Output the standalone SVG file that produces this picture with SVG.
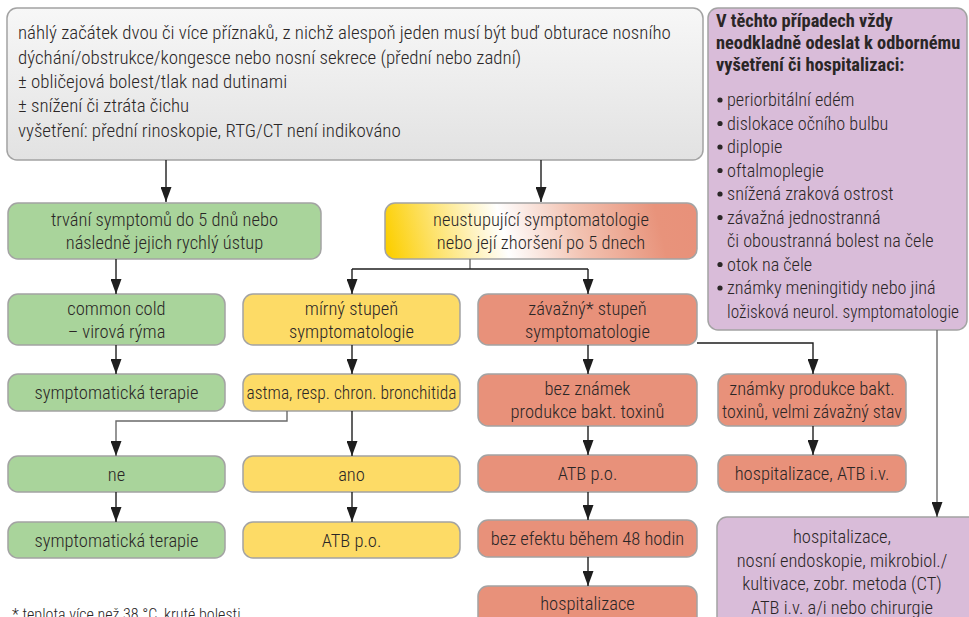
<svg xmlns="http://www.w3.org/2000/svg" width="969" height="617" viewBox="0 0 969 617">
  <defs>
    <linearGradient id="gTop" x1="0" y1="0" x2="0" y2="1">
      <stop offset="0" stop-color="#f7f7f7"/>
      <stop offset="1" stop-color="#e2e2e2"/>
    </linearGradient>
    <linearGradient id="gMix" gradientUnits="userSpaceOnUse" x1="392" y1="268" x2="690" y2="196">
      <stop offset="0" stop-color="#fccf00"/>
      <stop offset="0.14" stop-color="#fde060"/>
      <stop offset="0.38" stop-color="#ffffff"/>
      <stop offset="0.62" stop-color="#f2c2b1"/>
      <stop offset="0.88" stop-color="#e8937b"/>
      <stop offset="1" stop-color="#e8917a"/>
    </linearGradient>
    <marker id="ah" viewBox="0 0 15 11" refX="15" refY="5.5" markerWidth="15" markerHeight="11" markerUnits="userSpaceOnUse" orient="auto">
      <path d="M0,0 L15,5.5 L0,11 z" fill="#1e1e1e"/>
    </marker>
  </defs>
  <style>
    .box { stroke: #a3a3a3; stroke-width: 1.5; }
    .green { fill: #a9d49b; }
    .yellow { fill: #fddb66; }
    .salmon { fill: #e8917a; }
    .purple { fill: #d9bcd9; }
    text { font-family: "Roboto Condensed", "Liberation Sans Narrow", "Liberation Sans", sans-serif; font-size: 18.5px; font-weight: 300; fill: #2a2626; }
    .c { text-anchor: middle; }
    .t { font-size: 18.9px; }
    .b { font-weight: bold; font-size: 18.4px; }
    .li { font-size: 18.2px; }
    .wire { fill: none; stroke: #1e1e1e; stroke-width: 1.4; }
    .grey { stroke: #6a6a6a; }
  </style>

  <!-- entry criteria -->
  <g id="n-entry">
    <rect class="box" x="7" y="8" width="696" height="152" rx="10" fill="url(#gTop)"/>
    <text class="t" x="18" y="39">náhlý začátek dvou či více příznaků, z nichž alespoň jeden musí být buď obturace nosního</text>
    <text class="t" x="18" y="64">dýchání/obstrukce/kongesce nebo nosní sekrece (přední nebo zadní)</text>
    <text class="t" x="18" y="88">± obličejová bolest/tlak nad dutinami</text>
    <text class="t" x="18" y="112">± snížení či ztráta čichu</text>
    <text class="t" x="18" y="137">vyšetření: přední rinoskopie, RTG/CT není indikováno</text>
  </g>

  <!-- red flags -->
  <g id="n-redflags">
    <rect class="box purple" x="708" y="8" width="259" height="322" rx="10"/>
    <text class="b" x="716" y="27">V těchto případech vždy</text>
    <text class="b" x="716" y="49">neodkladně odeslat k odbornému</text>
    <text class="b" x="716" y="71">vyšetření či hospitalizaci:</text>
    <g fill="#2a2626">
      <circle cx="720" cy="100" r="2.6"/>
      <circle cx="720" cy="123.5" r="2.6"/>
      <circle cx="720" cy="147" r="2.6"/>
      <circle cx="720" cy="170.5" r="2.6"/>
      <circle cx="720" cy="194" r="2.6"/>
      <circle cx="720" cy="217.5" r="2.6"/>
      <circle cx="720" cy="264.5" r="2.6"/>
      <circle cx="720" cy="288" r="2.6"/>
    </g>
    <text class="li" x="727" y="106">periorbitální edém</text>
    <text class="li" x="727" y="129.5">dislokace očního bulbu</text>
    <text class="li" x="727" y="153">diplopie</text>
    <text class="li" x="727" y="176.5">oftalmoplegie</text>
    <text class="li" x="727" y="200">snížená zraková ostrost</text>
    <text class="li" x="727" y="223.5">závažná jednostranná</text>
    <text class="li" x="727" y="247">či oboustranná bolest na čele</text>
    <text class="li" x="727" y="270.5">otok na čele</text>
    <text class="li" x="727" y="294">známky meningitidy nebo jiná</text>
    <text class="li" x="727" y="317.5" textLength="232" lengthAdjust="spacingAndGlyphs">ložisková neurol. symptomatologie</text>
  </g>

  <!-- second row -->
  <g id="n-short">
    <rect class="box green" x="8" y="203" width="313" height="56" rx="10"/>
    <text class="c" x="164.5" y="226">trvání symptomů do 5 dnů nebo</text>
    <text class="c" x="164.5" y="249">následně jejich rychlý ústup</text>
  </g>
  <g id="n-persist">
    <rect class="box" x="385" y="203" width="312" height="56" rx="10" fill="url(#gMix)"/>
    <text class="c" x="541" y="226">neustupující symptomatologie</text>
    <text class="c" x="541" y="249">nebo její zhoršení po 5 dnech</text>
  </g>

  <!-- third row -->
  <g id="n-cold">
    <rect class="box green" x="8" y="294" width="217" height="51" rx="10"/>
    <text class="c" x="116.5" y="315">common cold</text>
    <text class="c" x="116.5" y="338">– virová rýma</text>
  </g>
  <g id="n-mild">
    <rect class="box yellow" x="243" y="294" width="217" height="51" rx="10"/>
    <text class="c" x="351.5" y="315">mírný stupeň</text>
    <text class="c" x="351.5" y="338">symptomatologie</text>
  </g>
  <g id="n-severe">
    <rect class="box salmon" x="478" y="294" width="219" height="51" rx="10"/>
    <text class="c" x="587.5" y="315">závažný* stupeň</text>
    <text class="c" x="587.5" y="338">symptomatologie</text>
  </g>

  <!-- fourth row -->
  <g id="n-symp1">
    <rect class="box green" x="8" y="374" width="217" height="37" rx="10"/>
    <text class="c" x="116.5" y="399">symptomatická terapie</text>
  </g>
  <g id="n-asthma">
    <rect class="box yellow" x="243" y="374" width="217" height="37" rx="10"/>
    <text class="c" x="351.5" y="399" textLength="210" lengthAdjust="spacingAndGlyphs">astma, resp. chron. bronchitida</text>
  </g>
  <g id="n-notoxin">
    <rect class="box salmon" x="478" y="374" width="219" height="52" rx="10"/>
    <text class="c" x="587.5" y="395">bez známek</text>
    <text class="c" x="587.5" y="418">produkce bakt. toxinů</text>
  </g>
  <g id="n-toxin">
    <rect class="box salmon" x="718" y="374" width="188" height="52" rx="10"/>
    <text class="c" x="812" y="395">známky produkce bakt.</text>
    <text class="c" x="812" y="418" textLength="180" lengthAdjust="spacingAndGlyphs">toxinů, velmi závažný stav</text>
  </g>

  <!-- fifth row -->
  <g id="n-no">
    <rect class="box green" x="8" y="456" width="217" height="36" rx="10"/>
    <text class="c" x="116.5" y="480.5">ne</text>
  </g>
  <g id="n-yes">
    <rect class="box yellow" x="243" y="456" width="217" height="36" rx="10"/>
    <text class="c" x="351.5" y="480.5">ano</text>
  </g>
  <g id="n-atb-po">
    <rect class="box salmon" x="478" y="455" width="219" height="37" rx="10"/>
    <text class="c" x="587.5" y="480">ATB p.o.</text>
  </g>
  <g id="n-hosp-iv">
    <rect class="box salmon" x="718" y="455" width="188" height="37" rx="10"/>
    <text class="c" x="812" y="480">hospitalizace, ATB i.v.</text>
  </g>

  <!-- sixth row -->
  <g id="n-symp2">
    <rect class="box green" x="8" y="522" width="217" height="36" rx="10"/>
    <text class="c" x="116.5" y="546.5">symptomatická terapie</text>
  </g>
  <g id="n-atb-po-mild">
    <rect class="box yellow" x="243" y="522" width="217" height="36" rx="10"/>
    <text class="c" x="351.5" y="546.5">ATB p.o.</text>
  </g>
  <g id="n-noeffect">
    <rect class="box salmon" x="478" y="520" width="219" height="37" rx="10"/>
    <text class="c" x="587.5" y="545">bez efektu během 48 hodin</text>
  </g>
  <g id="n-hosp">
    <rect class="box salmon" x="478" y="586" width="219" height="50" rx="10"/>
    <text class="c" x="587.5" y="610">hospitalizace</text>
  </g>
  <g id="n-hosp-full">
    <rect class="box purple" x="717" y="517" width="262" height="115" rx="10"/>
    <text class="c" x="842" y="543">hospitalizace,</text>
    <text class="c" x="842" y="566.5">nosní endoskopie, mikrobiol./</text>
    <text class="c" x="842" y="590">kultivace, zobr. metoda (CT)</text>
    <text class="c" x="842" y="613.5">ATB i.v. a/i nebo chirurgie</text>
  </g>

  <!-- footnote -->
  <text id="footnote" x="12" y="620" style="font-size:16px">* teplota více než 38 °C, kruté bolesti</text>

  <!-- connectors -->
  <g id="connectors">
    <path class="wire" d="M166 160 V202" marker-end="url(#ah)"/>
    <path class="wire" d="M541 160 V202" marker-end="url(#ah)"/>
    <path class="wire" d="M116 259 V294" marker-end="url(#ah)"/>
    <path class="wire grey" d="M470 259 V269"/>
    <path class="wire" d="M352 269 H588"/>
    <path class="wire" d="M352 269 V294" marker-end="url(#ah)"/>
    <path class="wire" d="M588 269 V294" marker-end="url(#ah)"/>
    <path class="wire" d="M116 345 V374" marker-end="url(#ah)"/>
    <path class="wire" d="M352 345 V374" marker-end="url(#ah)"/>
    <path class="wire" d="M588 345 V374" marker-end="url(#ah)"/>
    <path class="wire" d="M697 343 H813 V374" marker-end="url(#ah)"/>
    <path class="wire grey" d="M287 411 V421 H116 V456" marker-end="url(#ah)"/>
    <path class="wire" d="M352 411 V456" marker-end="url(#ah)"/>
    <path class="wire" d="M116 492 V522" marker-end="url(#ah)"/>
    <path class="wire" d="M352 492 V522" marker-end="url(#ah)"/>
    <path class="wire" d="M588 426 V455" marker-end="url(#ah)"/>
    <path class="wire" d="M588 492 V520" marker-end="url(#ah)"/>
    <path class="wire" d="M588 557 V586" marker-end="url(#ah)"/>
    <path class="wire" d="M813 426 V455" marker-end="url(#ah)"/>
    <path class="wire grey" d="M937 330 V517" marker-end="url(#ah)"/>
  </g>
</svg>
